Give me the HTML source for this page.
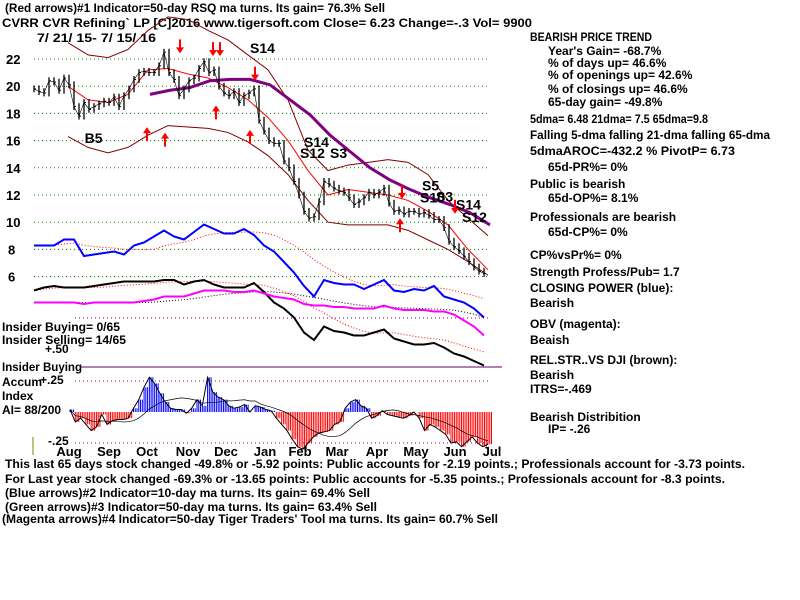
<!DOCTYPE html>
<html><head><meta charset="utf-8">
<style>
html,body{margin:0;padding:0;background:#fff;}
svg{display:block;font-family:"Liberation Sans",Arial,sans-serif;font-weight:bold;}
</style></head>
<body>
<svg id="chart" width="800" height="600" viewBox="0 0 800 600" xmlns="http://www.w3.org/2000/svg">
<rect width="800" height="600" fill="#fff"/>
<g id="texts" font-size="12" fill="#000">
<text x="5" y="12" textLength="380" lengthAdjust="spacingAndGlyphs">(Red arrows)#1 Indicator=50-day RSQ ma turns. Its gain= 76.3% Sell</text>
<text x="2" y="27" textLength="530" lengthAdjust="spacingAndGlyphs">CVRR   CVR Refining` LP  [C]2016 www.tigersoft.com    Close=  6.23  Change=-.3 Vol= 9900</text>
<text x="37" y="42" textLength="119" lengthAdjust="spacingAndGlyphs">7/ 21/ 15- 7/ 15/ 16</text>
</g>
<g id="right-panel" font-size="12" fill="#000">
<text x="530" y="41" textLength="122" lengthAdjust="spacingAndGlyphs">BEARISH PRICE TREND</text>
<text x="548" y="55">Year's Gain= -68.7%</text>
<text x="548" y="67">% of days up= 46.6%</text>
<text x="548" y="79">% of openings up= 42.6%</text>
<text x="548" y="93">% of closings up= 46.6%</text>
<text x="548" y="106">65-day gain= -49.8%</text>
<text x="530" y="123" textLength="178" lengthAdjust="spacingAndGlyphs">5dma= 6.48 21dma= 7.5 65dma=9.8</text>
<text x="530" y="139" textLength="240" lengthAdjust="spacingAndGlyphs">Falling 5-dma  falling 21-dma  falling 65-dma</text>
<text x="530" y="155" textLength="205" lengthAdjust="spacingAndGlyphs">5dmaAROC=-432.2 %  PivotP= 6.73</text>
<text x="548" y="171">65d-PR%= 0%</text>
<text x="530" y="188">Public is bearish</text>
<text x="548" y="202">65d-OP%= 8.1%</text>
<text x="530" y="221">Professionals are bearish</text>
<text x="548" y="236">65d-CP%= 0%</text>
<text x="530" y="259">CP%vsPr%=  0%</text>
<text x="530" y="276">Strength Profess/Pub= 1.7</text>
<text x="530" y="292">CLOSING POWER (blue):</text>
<text x="530" y="307">Bearish</text>
<text x="530" y="328">OBV (magenta):</text>
<text x="530" y="344">Beaish</text>
<text x="530" y="364">REL.STR..VS DJI (brown):</text>
<text x="530" y="379">Bearish</text>
<text x="530" y="393">ITRS=-.469</text>
<text x="530" y="421">Bearish Distribition</text>
<text x="548" y="433">IP= -.26</text>
</g>
<g id="bottom" font-size="12" fill="#000">
<text x="5" y="468" textLength="740" lengthAdjust="spacingAndGlyphs">This last 65 days stock changed -49.8% or -5.92 points:  Public accounts for -2.19 points.;  Professionals account for -3.73 points.</text>
<text x="5" y="483" textLength="720" lengthAdjust="spacingAndGlyphs">For Last year stock changed -69.3% or -13.65 points:  Public accounts for -5.35 points.;  Professionals account for -8.3 points.</text>
<text x="5" y="497" textLength="365" lengthAdjust="spacingAndGlyphs">(Blue arrows)#2 Indicator=10-day ma turns. Its gain= 69.4% Sell</text>
<text x="5" y="511" textLength="372" lengthAdjust="spacingAndGlyphs">(Green arrows)#3 Indicator=50-day ma turns. Its gain= 63.4% Sell</text>
<text x="2" y="523" textLength="496" lengthAdjust="spacingAndGlyphs">(Magenta arrows)#4 Indicator=50-day Tiger Traders' Tool ma turns. Its gain= 60.7% Sell</text>
</g>
<g id="left-labels" font-size="12" fill="#000">
<text x="2" y="331" textLength="118" lengthAdjust="spacingAndGlyphs">Insider Buying= 0/65</text>
<text x="2" y="344" textLength="124" lengthAdjust="spacingAndGlyphs">Insider Selling= 14/65</text>
<text x="45" y="353">+.50</text>
<text x="2" y="371" textLength="80" lengthAdjust="spacingAndGlyphs">Insider Buying</text>
<text x="2" y="386">Accum</text>
<text x="40" y="384">+.25</text>
<text x="2" y="400">Index</text>
<text x="2" y="414">AI= 88/200</text>
<text x="48" y="445">-.25</text>
</g>
<line x1="33" y1="437" x2="33" y2="455" stroke="#808000" stroke-width="1"/>
<g id="plot"></g>
</svg>
<script>
// ---- data ----
var closes = [19.8,19.6,19.5,20.4,20.3,19.7,20.6,20.1,18.5,17.8,18.8,18.3,18.5,18.7,18.9,18.8,19.2,18.5,19.3,19.8,20.5,21.0,21.1,21.0,21.0,21.5,22.5,21.0,20.5,19.3,19.8,20.4,20.6,21.3,21.8,21.0,21.2,20.0,19.5,19.3,19.6,18.8,19.3,19.5,19.8,17.5,16.7,16.0,15.8,15.8,14.5,14.0,13.0,12.0,10.8,10.3,10.4,11.5,13.0,12.8,12.5,12.3,12.2,11.8,11.3,11.5,11.8,12.2,12.0,12.2,12.5,11.4,10.8,10.9,10.6,10.8,10.8,10.6,10.7,10.5,10.2,10.2,9.6,8.6,8.2,7.9,7.5,7.1,6.7,6.4,6.23];
var upperBand = [23.2,22.3,22.1,22.7,24.1,25.1,24.9,24.1,23.4,22.3,21.2,19.0,15.3,13.8,14.2,14.4,14.6,14.4,13.5,11.6,10.3,9.0];
var lowerBand = [16.3,15.5,15.1,15.5,16.4,17.1,17.0,16.9,16.6,15.9,14.9,13.5,11.6,10.0,9.8,9.8,9.8,9.4,8.7,8.0,7.1,6.1];
var ma21 = [20.0,19.0,18.8,19.4,21.2,21.3,20.9,20.6,19.9,19.0,17.7,16.0,13.8,12.0,12.4,12.2,12.0,11.6,10.8,9.8,8.0,6.5];
var ma65 = [19.4,19.7,19.9,20.4,20.5,20.5,20.1,19.0,17.9,16.4,15.2,14.0,13.1,12.4,11.8,11.3,10.7,9.8];
var closingPower = [83,83,83,87,87,76,77,78,79,77,83,85,89,93,89,87,92,97,94,91,91,94,90,83,79,72,65,56,49,60,58,57,57,54,57,60,53,52,54,53,56,49,47,45,41,35];
var relStrength = [53,55,56,55,55,55,56,57,58,59,59,59,59,60,60,57,59,60,57,55,55,55,58,52,45,41,35,25,20,29,26,25,23,23,25,27,21,19,17,17,18,15,11,9,6,3];
var obv = [45,45,45,45,45,44,45,45,45,45,45,46,47,49,49,49,51,53,53,53,52,52,53,51,49,48,47,44,43,43,42,42,41,41,41,43,41,40,40,40,39,39,37,33,29,23];
var accumIndex = [0.02,-0.08,-0.05,-0.10,-0.15,-0.12,-0.02,-0.10,-0.07,-0.06,-0.06,-0.05,0.03,0.10,0.20,0.28,0.23,0.15,0.08,0.03,0.02,0.02,-0.01,0.03,0.10,0.05,0.28,0.16,0.12,0.10,0.05,0.03,0.04,0.06,0.00,0.05,0.04,0.02,0.01,-0.05,-0.10,-0.15,-0.22,-0.28,-0.30,-0.25,-0.20,-0.17,-0.16,-0.15,-0.10,-0.08,0.03,0.08,0.10,0.05,0.03,-0.05,-0.03,0.01,-0.02,-0.03,-0.04,-0.05,-0.03,0.00,-0.05,-0.15,-0.10,-0.12,-0.15,-0.18,-0.25,-0.24,-0.28,-0.24,-0.20,-0.25,-0.28,-0.26];
var priceTicks = [22,20,18,16,14,12,10,8,6];
var months = ["Aug","Sep","Oct","Nov","Dec","Jan","Feb","Mar","Apr","May","Jun","Jul"];
var monthIdx = [7,15,22.6,30.8,38.4,46.2,53.2,60.6,68.6,76.4,84.2,91.6];
var signals = [["B5",84.6,16.2],["S14",250,22.8],["S12",300,15.1],["S14",304,15.9],["S3",330,15.1],["S5",422,12.7],["S10",420,11.8],["S3",436,11.9],["S14",456,11.3],["S12",462,10.4]];
// ---- axes ----
function py(v){return 59+(22-v)*13.6;}
function cx(i){return 34+5*i;}
function bandX(i){return 68+20*i;}
function maX(i){return 150+20*i;}
function indX(i){return 34+10*i;}
function iy(v){return 370-1.5*v;}
function aiX(i){return 70+(418/(accumIndex.length-1))*i;}
function aiY(v){return 412-124*v;}
var NS="http://www.w3.org/2000/svg";
var plot=document.getElementById('plot');
function mk(tag,attrs){var e=document.createElementNS(NS,tag);for(var k in attrs)e.setAttribute(k,attrs[k]);plot.appendChild(e);return e;}
function poly(arr,xf,yf,color,w,dash,name){
  var pts=arr.map(function(v,i){return xf(i)+","+yf(v);}).join(" ");
  var e=mk('polyline',{points:pts,fill:'none',stroke:color,'stroke-width':w});
  if(dash)e.setAttribute('stroke-dasharray',dash);
  
  
  return e;
}
function movAvg(arr,n){return arr.map(function(v,i){var s=0,c=0;for(var j=Math.max(0,i-n+1);j<=i;j++){s+=arr[j];c++;}return s/c;});}
priceTicks.forEach(function(t){
  var g=mk('line',{x1:34,x2:490,y1:py(t),y2:py(t),stroke:'#008000','stroke-dasharray':'1,3'});
  
  
  var tx=mk('text',{x:t>=10?6:8,y:py(t)+5,'font-size':13});
  tx.textContent=t;
  
  
});
[0.5,0.25,-0.25].forEach(function(v){
  var yy=aiY(v)-(v==0.5?32:0);
  var l=mk('line',{x1:75,x2:490,y1:yy,y2:yy,stroke:'#800080','stroke-dasharray':'1,3'});
  
  
});
var il=mk('line',{x1:80,x2:502,y1:367,y2:367,stroke:'#600060','stroke-width':1});


poly(upperBand,bandX,py,'#800000',1,null,'upper-band');
poly(lowerBand,bandX,py,'#800000',1,null,'lower-band');
poly(ma21,bandX,py,'#ff0000',1,null,'ma-21');
poly(ma65,maX,py,'#800080',3,null,'ma-65');
closes.forEach(function(c,i){
  var p=i>0?closes[i-1]:c;
  var hi=Math.max(c,p)+0.25, lo=Math.min(c,p)-0.25;
  var b=mk('line',{x1:cx(i),x2:cx(i),y1:py(hi),y2:py(lo),stroke:'#000','stroke-width':1.3});
  
  
  var t=mk('line',{x1:cx(i),x2:cx(i)+2,y1:py(c),y2:py(c),stroke:'#000'});
  
  
});
poly(closes,cx,py,'#000',0.6,null,'price-line');
poly(movAvg(closingPower,8),indX,iy,'#ff0000',1,'1,2','closing-power-ma');
poly(closingPower,indX,iy,'#0000ff',2,null,'closing-power');
poly(movAvg(relStrength,8),indX,iy,'#ff0000',1,'1,2','rel-strength-ma');
poly(relStrength,indX,iy,'#000',2,null,'rel-strength');
poly(movAvg(obv,8),indX,iy,'#000',1,'1,2','obv-ma');
poly(obv,indX,iy,'#ff00ff',2,null,'obv');
accumIndex.forEach(function(v,i){
  var col=v>=0?'#0000ff':'#ff0000';
  for(var k=0;k<3;k++){
    var x=aiX(i)+k*1.75;
    var b=mk('line',{x1:x,x2:x,y1:aiY(0),y2:aiY(v),stroke:col,'stroke-width':1});
    
    
  }
});
poly(accumIndex,aiX,aiY,'#000',1,null,'ai-outline');
poly(movAvg(accumIndex,10),aiX,aiY,'#000',0.7,null,'ai-ma');
months.forEach(function(m,i){
  var t=mk('text',{x:cx(monthIdx[i]),y:456,'font-size':13,'text-anchor':'middle'});
  t.textContent=m;
  
  
});
signals.forEach(function(s){
  var t=mk('text',{x:s[1],y:py(s[2])+5,'font-size':14});
  t.textContent=s[0];
  
  
});
[[180,23],[213,22.8],[220,22.8],[255,21],[216,18],[147,16.4],[165,16],[250,16.2],[402,12.3],[400,9.7],[455,11.2]].forEach(function(a,i){
  var down=(i<4||i>7&&i!=9);
  var y=py(a[1]);
  var ln=mk('line',{x1:a[0],x2:a[0],y1:y-6,y2:y+6,stroke:'#ff0000','stroke-width':2});
  
  
  var hp=down?(a[0]-4)+','+(y+2)+' '+(a[0]+4)+','+(y+2)+' '+a[0]+','+(y+8):(a[0]-4)+','+(y-2)+' '+(a[0]+4)+','+(y-2)+' '+a[0]+','+(y-8);
  var h=mk('polygon',{points:hp,fill:'#ff0000'});
  
  
});
</script>
</body></html>
